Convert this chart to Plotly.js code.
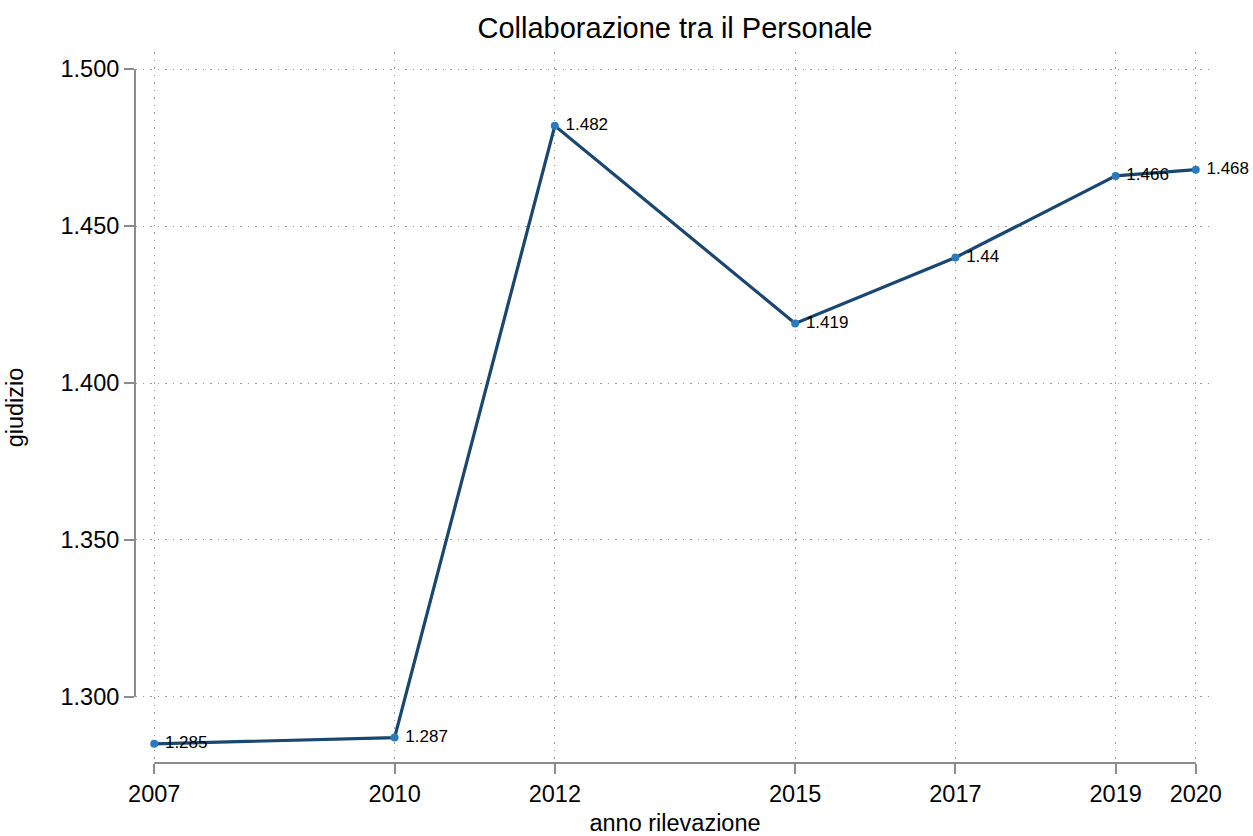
<!DOCTYPE html>
<html>
<head>
<meta charset="utf-8">
<script src="https://cdn.plot.ly/plotly-3.0.1.min.js"></script>
<style>html,body{margin:0;padding:0;background:#fff;}#chart{width:1253px;height:836px;}</style>
</head>
<body>
<div id="chart"></div>
<script>
const years = [2007, 2010, 2012, 2015, 2017, 2019, 2020];
const values = [1.285, 1.287, 1.482, 1.419, 1.44, 1.466, 1.468];
const labels = ["1.285", "1.287", "1.482", "1.419", "1.44", "1.466", "1.468"];
const yTicks = [1.300, 1.350, 1.400, 1.450, 1.500];
const yTickText = ["1.300", "1.350", "1.400", "1.450", "1.500"];
const xTicks = years;

const FONT = "Arial, 'Liberation Sans', sans-serif";
const AXIS_COLOR = "#8c8c8c";

const trace = {
  x: years,
  y: values,
  mode: "lines+markers+text",
  text: labels,
  texttemplate: "\u00a0%{text}",
  textposition: "middle right",
  textfont: {family: FONT, size: 17, color: "#000"},
  line: {color: "#1a476f", width: 3.2},
  marker: {color: "#2a7bbd", size: 8},
  cliponaxis: false,
  hoverinfo: "x+y",
  showlegend: false
};

const layout = {
  width: 1253,
  height: 836,
  paper_bgcolor: "#fff",
  plot_bgcolor: "#fff",
  font: {family: FONT, color: "#000"},
  margin: {l: 135, r: 38, t: 52, b: 73},
  title: {
    text: "Collaborazione tra il Personale",
    font: {family: FONT, size: 29, color: "#000"},
    xref: "paper", x: 0.5, xanchor: "center",
    yref: "container", y: 1 - 28/836, yanchor: "middle"
  },
  xaxis: {
    range: [2006.76, 2020.24],
    tickmode: "array",
    tickvals: xTicks,
    ticktext: xTicks.map(String),
    ticks: "outside", ticklen: 10, tickwidth: 2, tickcolor: AXIS_COLOR,
    tickfont: {family: FONT, size: 23.5, color: "#000"},
    showline: false, zeroline: false,
    showgrid: true, gridcolor: "#9a9a9a", gridwidth: 1, griddash: "1.5px,6px",
    title: {text: "anno rilevazione", font: {family: FONT, size: 23.5, color: "#000"}, standoff: 12},
    automargin: false
  },
  yaxis: {
    range: [1.2789, 1.5055],
    tickmode: "array",
    tickvals: yTicks,
    ticktext: yTickText,
    ticks: "outside", ticklen: 10, tickwidth: 2, tickcolor: AXIS_COLOR,
    tickfont: {family: FONT, size: 23.5, color: "#000"},
    showline: false, zeroline: false,
    showgrid: true, gridcolor: "#9a9a9a", gridwidth: 1, griddash: "1.5px,6px",
    title: {text: "giudizio", font: {family: FONT, size: 23.5, color: "#000"}, standoff: 30},
    automargin: false
  },
  shapes: [
    {type: "line", xref: "paper", yref: "y", x0: 0, x1: 0,
     y0: yTicks[0], y1: yTicks[yTicks.length - 1],
     line: {color: AXIS_COLOR, width: 2}},
    {type: "line", xref: "x", yref: "paper", y0: 0, y1: 0,
     x0: xTicks[0], x1: xTicks[xTicks.length - 1],
     line: {color: AXIS_COLOR, width: 2}}
  ]
};

Plotly.newPlot("chart", [trace], layout, {displayModeBar: false, staticPlot: true});
</script>
</body>
</html>
